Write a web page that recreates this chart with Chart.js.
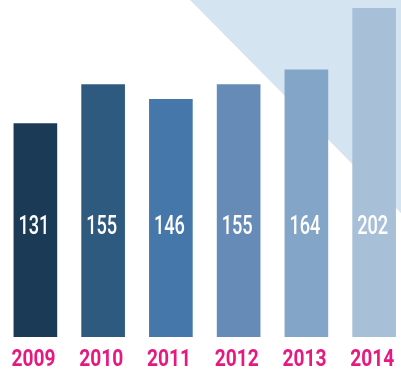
<!DOCTYPE html>
<html>
<head>
<meta charset="utf-8">
<script src="https://cdn.jsdelivr.net/npm/chart.js@4/dist/chart.umd.min.js"></script>
<style>
  html, body { margin: 0; padding: 0; background: #fff; overflow: hidden; }
  #wrap { width: 408px; height: 375px; }
</style>
</head>
<body>
<div id="wrap"><canvas id="chart" width="408" height="375"></canvas></div>
<script>
// yearly totals
const years = ['2009', '2010', '2011', '2012', '2013', '2014'];
const totals = [131, 155, 146, 155, 164, 202];
const barColors = ['#1b3a56', '#2f5a80', '#4677aa', '#678bb7', '#83a5c8', '#a8bfd8'];

const YEAR_COLOR = '#e5197f';
const FONT = 'Roboto, "DejaVu Sans", sans-serif';

// light diagonal band in the upper right corner
const cornerShade = {
    id: 'cornerShade',
    beforeDraw(chart) {
        const ctx = chart.ctx;
        ctx.save();
        ctx.fillStyle = '#d4e4f1';
        ctx.beginPath();
        ctx.moveTo(190, 0);
        ctx.lineTo(chart.width, 0);
        ctx.lineTo(chart.width, (chart.width - 190) * 1.01);
        ctx.closePath();
        ctx.fill();
        ctx.restore();
    }
};

// squeeze text horizontally to a narrow, condensed look
function drawNarrow(ctx, text, cx, y, width) {
    const w = ctx.measureText(text).width;
    const sx = width / w;
    ctx.save();
    ctx.translate(cx, y);
    ctx.scale(sx, 1);
    ctx.fillText(text, 0, 0);
    ctx.restore();
}

// value inside each bar and year under it
const barLabels = {
    id: 'barLabels',
    afterDatasetsDraw(chart) {
        const ctx = chart.ctx;
        const x = chart.scales.x;
        const bottom = chart.chartArea.bottom;
        ctx.save();
        ctx.textAlign = 'center';
        ctx.textBaseline = 'alphabetic';
        totals.forEach((v, i) => {
            const cx = x.getPixelForValue(i);
            ctx.fillStyle = '#ffffff';
            ctx.font = '500 25px ' + FONT;
            drawNarrow(ctx, String(v), cx - 1.5, bottom - 103, 31);
            ctx.fillStyle = YEAR_COLOR;
            ctx.font = 'bold 24px ' + FONT;
            drawNarrow(ctx, years[i], cx - 2, bottom + 29, 44);
        });
        ctx.restore();
    }
};

new Chart(document.getElementById('chart'), {
    type: 'bar',
    data: {
        labels: years,
        datasets: [{ data: totals, backgroundColor: barColors, borderWidth: 0, barThickness: 43 }]
    },
    options: {
        responsive: false,
        animation: false,
        layout: { padding: { left: 1.5, right: 0, top: 8, bottom: 38 } },
        scales: {
            x: { display: false },
            y: { display: false, min: 0, max: 202 }
        },
        plugins: { legend: { display: false }, tooltip: { enabled: false } }
    },
    plugins: [cornerShade, barLabels]
});
</script>
</body>
</html>
